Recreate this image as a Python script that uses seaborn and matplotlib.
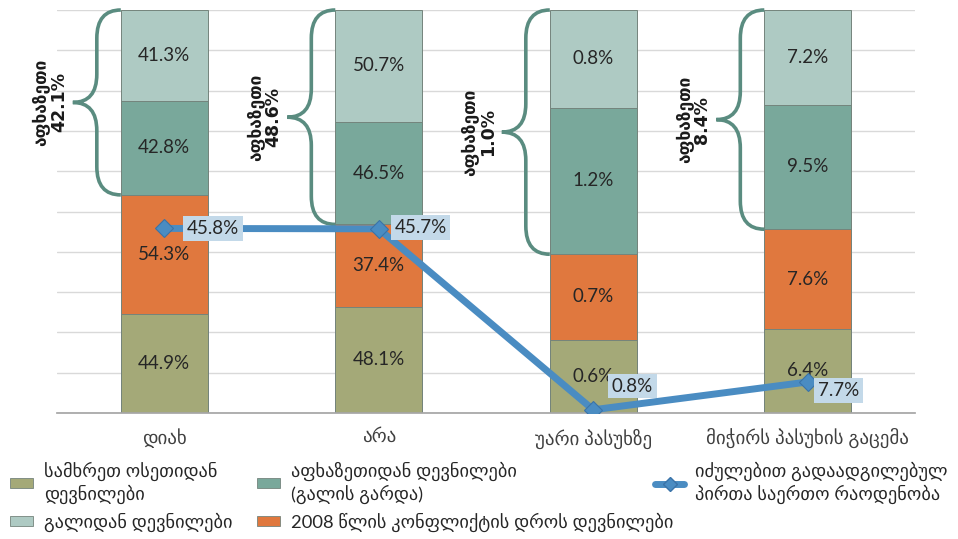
import numpy as np
import pandas as pd
import matplotlib
matplotlib.use("Agg")
import matplotlib.pyplot as plt
from matplotlib.path import Path
from matplotlib.patches import PathPatch, Patch
from matplotlib.lines import Line2D
import seaborn as sns

# ---------------- data ----------------
categories = ["დიახ", "არა", "უარი პასუხზე", "მიჭირს პასუხის გაცემა"]
south_ossetia = [44.9, 48.1, 0.6, 6.4]
conflict_2008 = [54.3, 37.4, 0.7, 7.6]
abkhazia = [42.8, 46.5, 1.2, 9.5]
gali = [41.3, 50.7, 0.8, 7.2]
total_idp = [45.8, 45.7, 0.8, 7.7]
abkhazia_total = ["42.1%", "48.6%", "1.0%", "8.4%"]

series_names = ["სამხრეთ ოსეთიდან\nდევნილები",
                "2008 წლის კონფლიქტის დროს დევნილები",
                "აფხაზეთიდან დევნილები\n(გალის გარდა)",
                "გალიდან დევნილები"]
line_name = "იძულებით გადაადგილებულ\nპირთა საერთო რაოდენობა"
brace_word = "აფხაზეთი"

colors = ["#a4a978", "#e0783e", "#79a89b", "#aecac3"]
line_color = "#4a8cc2"
brace_color = "#5a8c80"

# ---------------- figure ----------------
sns.set_theme(style="white")
plt.rcParams["font.family"] = ["Lato", "DejaVu Sans"]

fig = plt.figure(figsize=(9.58, 5.39), dpi=100)
ax = fig.add_axes([57 / 958, 1 - 413 / 539, (915 - 57) / 958, (413 - 10) / 539])

df = pd.DataFrame({"cat": categories,
                   "s0": south_ossetia, "s1": conflict_2008,
                   "s2": abkhazia, "s3": gali})
vals = df[["s0", "s1", "s2", "s3"]].to_numpy(dtype=float)
pct = vals / vals.sum(axis=1, keepdims=True) * 100
cum = np.cumsum(pct, axis=1)

bar_w = 0.405
# draw from top layer down so smaller cumulative bars overlay
for k in range(3, -1, -1):
    sns.barplot(x=df["cat"], y=cum[:, k], color=colors[k], width=bar_w,
                edgecolor="#74847c", linewidth=0.7, ax=ax, saturation=1,
                order=categories, zorder=2)

# segment labels
for i in range(len(categories)):
    for k in range(4):
        lo = cum[i, k] - pct[i, k]
        ax.text(i, lo + pct[i, k] / 2, f"{vals[i, k]:.1f}%", ha="center",
                va="center", fontsize=13.5, color="#262626", zorder=5)

# line
sns.lineplot(x=np.arange(len(categories)), y=total_idp, ax=ax, color=line_color,
             linewidth=5, marker="D", markersize=9, markeredgecolor="#3a73a8",
             markeredgewidth=0.8, zorder=6, legend=False)

offsets = [(35, 0), (30, 1), (28, 17), (22, -6)]
for i, v in enumerate(total_idp):
    ax.annotate(f"{v:.1f}%", (i, v), xytext=offsets[i], textcoords="offset points",
                ha="center", va="center", fontsize=13.5, color="#262626", zorder=7,
                bbox=dict(boxstyle="square,pad=0.2", fc="#c3d9e9", ec="none"))

# braces
w = 24 / 214.5
for i in range(len(categories)):
    xr = i - bar_w / 2
    yb, yt = cum[i, 1], 100.0
    ym = (yb + yt) / 2
    r = 7.0
    verts = [(xr, yt), (xr - w, yt), (xr - w, yt - r),
             (xr - w, ym + r),
             (xr - w, ym), (xr - 2 * w, ym),
             (xr - w, ym), (xr - w, ym - r),
             (xr - w, yb + r),
             (xr - w, yb), (xr, yb)]
    codes = [Path.MOVETO, Path.CURVE3, Path.CURVE3, Path.LINETO,
             Path.CURVE3, Path.CURVE3, Path.CURVE3, Path.CURVE3,
             Path.LINETO, Path.CURVE3, Path.CURVE3]
    ax.add_patch(PathPatch(Path(verts, codes), fc="none", ec=brace_color,
                           lw=2.6, zorder=4, clip_on=False))
    ax.text(xr - 2 * w - 0.105, ym, f"{brace_word}\n{abkhazia_total[i]}",
            rotation=90, ha="center", va="center", fontsize=12.5,
            family=["DejaVu Sans"], fontweight="bold", color="#1a1a1a",
            linespacing=0.95, zorder=5)

ax.set_xlim(-0.5, len(categories) - 0.5)
ax.set_ylim(0, 100)
ax.set_yticks(np.arange(0, 101, 10))
ax.set_yticklabels([])
ax.tick_params(axis="y", length=0)
ax.tick_params(axis="x", length=0, pad=11, labelsize=13.6, labelcolor="#404040")
ax.set_xlabel("")
ax.set_ylabel("")
ax.grid(axis="y", color="#d9d9d9", linewidth=1, zorder=0)
ax.set_axisbelow(True)
for s in ["left", "right", "top"]:
    ax.spines[s].set_visible(False)
ax.spines["bottom"].set_color("#a6a6a6")

# legends
def patch(c):
    return Patch(facecolor=c, edgecolor="#74847c", linewidth=0.6)

leg_kw = dict(loc="upper left", frameon=False, fontsize=13.2,
              handleheight=0.45, handletextpad=0.6, labelspacing=0.48,
              labelcolor="#262626", borderpad=0, borderaxespad=0)
top = 1 - 462 / 539
l1 = fig.legend([patch(colors[0]), patch(colors[3])], [series_names[0], series_names[3]],
                bbox_to_anchor=(10 / 958, top), handlelength=1.25, **leg_kw)
l2 = fig.legend([patch(colors[2]), patch(colors[1])], [series_names[2], series_names[1]],
                bbox_to_anchor=(257 / 958, top), handlelength=1.25, **leg_kw)
l3 = fig.legend([Line2D([0], [0], color=line_color, lw=5, marker="D", markersize=7,
                        markeredgecolor="#3a73a8")], [line_name],
                bbox_to_anchor=(655 / 958, top), handlelength=1.6, **leg_kw)

fig.savefig("out.png", dpi=100)
